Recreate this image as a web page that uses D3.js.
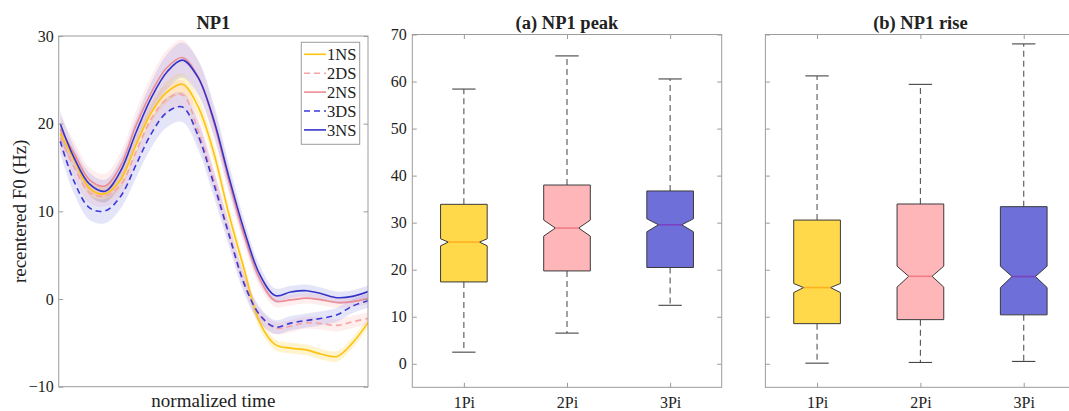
<!DOCTYPE html>
<html>
<head>
<meta charset="utf-8">
<script src="https://cdn.jsdelivr.net/npm/d3@7"></script>
<style>
  html, body { margin: 0; padding: 0; background: #fff; }
  svg { display: block; }
  text { font-family: "Liberation Serif", "Times New Roman", serif; fill: #222; }
</style>
</head>
<body>
<svg id="chart" width="1069" height="411"></svg>
<script>
// ---------------- DATA ----------------
const timePts = [0.005,0.05,0.1,0.15,0.2,0.25,0.3,0.35,0.4,0.45,0.5,0.55,0.6,0.65,0.7,0.75,0.8,0.85,0.9,0.95,1.0];
const seriesNames = ["1NS","2DS","2NS","3DS","3NS"];
const f0_1NS = [18.9,15.9,12.6,12.0,13.6,17.6,21.3,23.6,24.5,22.0,16.85,9.7,3.35,-2.7,-5.2,-5.6,-5.8,-6.3,-6.55,-5.0,-2.7];
const f0_2DS = [18.4,15.0,12.1,11.75,13.0,16.8,20.6,22.8,23.3,19.3,13.8,7.6,1.9,-1.9,-3.3,-3.1,-2.7,-2.8,-3.0,-2.6,-2.2];
const f0_2NS = [19.4,16.6,13.6,12.9,15.2,19.8,23.6,26.4,27.55,25.4,20.3,13.5,7.2,2.3,-0.2,-0.1,0.1,-0.1,-0.4,-0.3,0.05];
const f0_3DS = [18.0,13.4,10.4,10.05,11.7,15.3,18.9,21.3,21.9,18.7,13.3,7.4,1.7,-1.8,-3.2,-2.75,-2.45,-2.2,-1.8,-0.8,-0.2];
const f0_3NS = [20.0,16.1,13.1,12.3,14.6,19.0,23.0,25.9,27.25,25.3,20.6,13.95,7.8,2.8,0.4,0.8,0.95,0.6,0.15,0.3,0.85];
// half-widths of shaded error bands
const err_1NS = [0.9,0.9,0.9,0.9,1.0,1.0,1.1,1.2,1.2,1.1,1.0,0.9,0.8,0.7,0.6,0.6,0.6,0.6,0.6,0.6,0.6];
const err_2DS = [1.3,1.2,1.2,1.2,1.3,1.4,1.5,1.6,1.6,1.5,1.3,1.1,0.9,0.8,0.7,0.7,0.7,0.7,0.7,0.7,0.7];
const err_2NS = [1.5,1.4,1.4,1.4,1.5,1.7,1.9,2.0,2.0,1.9,1.7,1.4,1.1,0.9,0.7,0.6,0.6,0.6,0.6,0.6,0.6];
const err_3DS = [1.4,1.4,1.4,1.4,1.4,1.5,1.6,1.7,1.7,1.6,1.5,1.3,1.1,0.9,0.8,0.8,0.8,0.8,0.8,0.8,0.8];
const err_3NS = [1.4,1.3,1.3,1.3,1.4,1.6,1.8,2.0,2.0,2.0,1.8,1.5,1.2,1.0,0.8,0.7,0.7,0.7,0.7,0.7,0.7];
const f0Ticks = [-10,0,10,20,30];

const boxCategories = ["1Pi","2Pi","3Pi"];
// (a) NP1 peak
const peakWhiskerLow  = [2.47, 6.52, 12.43];
const peakQ1          = [17.4, 19.74, 20.47];
const peakNotchLow    = [25.08, 27.14, 28.06];
const peakMedian      = [25.87, 28.85, 29.55];
const peakNotchHigh   = [26.57, 30.55, 30.83];
const peakQ3          = [33.9, 38.0, 36.74];
const peakWhiskerHigh = [58.4, 65.45, 60.55];
// (b) NP1 rise
const riseWhiskerLow  = [0.13, 0.28, 0.5];
const riseQ1          = [8.53, 9.38, 10.4];
const riseNotchLow    = [15.14, 16.3, 16.2];
const riseMedian      = [16.2, 18.6, 18.55];
const riseNotchHigh   = [17.06, 20.75, 20.75];
const riseQ3          = [30.55, 33.97, 33.4];
const riseWhiskerHigh = [61.2, 59.4, 68.0];
const boxTicks = [0,10,20,30,40,50,60,70];

// ---------------- STYLE ----------------
const SERIF = '"Liberation Serif", "Times New Roman", Times, serif';
const lineStyle = {
  "1NS": {color: "#FFC20E", dash: null,  band: "#FFD84A", bandOp: 0.28},
  "2DS": {color: "#F7A3A6", dash: "6,4", band: "#FFA8AC", bandOp: 0.2},
  "2NS": {color: "#EC8C94", dash: null,  band: "#FFA8AC", bandOp: 0.2},
  "3DS": {color: "#3A3AD6", dash: "6,4", band: "#6F6FE0", bandOp: 0.18},
  "3NS": {color: "#3434C8", dash: null,  band: "#6F6FE0", bandOp: 0.18}
};
const boxFill   = ["#FFD94A", "#FFB6B9", "#6E6FD9"];
const boxMedCol = ["#FFB020", "#F07F88", "#7A40C0"];
const frameCol = "#9c9c9c";

const svg = d3.select("#chart");

function frame(g, x0, x1, y0, y1) {
  g.append("rect").attr("x", x0).attr("y", y0).attr("width", x1 - x0).attr("height", y1 - y0)
    .attr("fill", "none").attr("stroke", frameCol).attr("stroke-width", 1);
}
function styleAxis(sel, showText) {
  sel.attr("font-family", SERIF).attr("font-size", 16);
  sel.select(".domain").remove();
  sel.selectAll(".tick line").attr("stroke", frameCol);
  sel.selectAll(".tick text").attr("fill", "#222")
     .style("font-size", "16px").style("font-family", SERIF);
  if (!showText) sel.selectAll(".tick text").remove();
}

// ---------------- LEFT PANEL: F0 curves ----------------
(function() {
  const L = {x0: 58.7, x1: 368, y0: 36, y1: 386.7};
  const x = d3.scaleLinear().domain([0, 1]).range([L.x0, L.x1]);
  const y = d3.scaleLinear().domain([-10, 30]).range([L.y1, L.y0]);
  const g = svg.append("g");
  const series = {"1NS": [f0_1NS, err_1NS], "2DS": [f0_2DS, err_2DS], "2NS": [f0_2NS, err_2NS],
                  "3DS": [f0_3DS, err_3DS], "3NS": [f0_3NS, err_3NS]};
  const clipId = "clipL";
  svg.append("clipPath").attr("id", clipId).append("rect")
     .attr("x", L.x0).attr("y", L.y0).attr("width", L.x1 - L.x0).attr("height", L.y1 - L.y0);
  const gc = g.append("g").attr("clip-path", `url(#${clipId})`);
  const curve = d3.curveCatmullRom.alpha(0.5);
  const area = d3.area().curve(curve).x(d => x(d.t)).y0(d => y(d.v - d.e)).y1(d => y(d.v + d.e));
  const line = d3.line().curve(curve).x(d => x(d.t)).y(d => y(d.v));
  seriesNames.forEach(n => {
    const [vals, errs] = series[n];
    const pts = timePts.map((t, i) => ({t, v: vals[i], e: errs[i]}));
    gc.append("path").attr("d", area(pts)).attr("fill", lineStyle[n].band).attr("fill-opacity", lineStyle[n].bandOp);
  });
  seriesNames.forEach(n => {
    const [vals] = series[n];
    const pts = timePts.map((t, i) => ({t, v: vals[i]}));
    gc.append("path").attr("d", line(pts)).attr("fill", "none")
      .attr("stroke", lineStyle[n].color).attr("stroke-width", 1.6)
      .attr("stroke-dasharray", lineStyle[n].dash);
  });
  const ax = g.append("g").attr("transform", `translate(${L.x0},0)`)
    .call(d3.axisLeft(y).tickValues(f0Ticks).tickSize(-4.5).tickPadding(5).tickFormat(d3.format("d")));
  styleAxis(ax, true);
  const axr = g.append("g").attr("transform", `translate(${L.x1},0)`)
    .call(d3.axisRight(y).tickValues(f0Ticks).tickSize(-4.5));
  styleAxis(axr, false);
  frame(g, L.x0, L.x1, L.y0, L.y1);
  g.append("text").attr("x", (L.x0 + L.x1) / 2).attr("y", 29).attr("text-anchor", "middle")
    .style("font-size", "18.5px").style("font-weight", "bold").text("NP1");
  g.append("text").attr("x", (L.x0 + L.x1) / 2).attr("y", 407).attr("text-anchor", "middle")
    .style("font-size", "19px").text("normalized time");
  g.append("text").attr("transform", `translate(26,${(L.y0 + L.y1) / 2}) rotate(-90)`)
    .attr("text-anchor", "middle").style("font-size", "19px").text("recentered F0 (Hz)");
  // legend
  const lg = g.append("g");
  lg.append("rect").attr("x", 301.3).attr("y", 42.3).attr("width", 58.4).attr("height", 102)
    .attr("fill", "#fff").attr("stroke", frameCol);
  seriesNames.forEach((n, i) => {
    const yy = 54.3 + i * 18.9;
    lg.append("line").attr("x1", 304).attr("x2", 326).attr("y1", yy).attr("y2", yy)
      .attr("stroke", lineStyle[n].color).attr("stroke-width", 1.6).attr("stroke-dasharray", lineStyle[n].dash);
    lg.append("text").attr("x", 327).attr("y", yy).attr("dy", "0.35em").style("font-size", "16.5px").text(n);
  });
})();

// ---------------- BOX PANELS ----------------
function boxPanel(P, title, stats, showYLabels) {
  const g = svg.append("g");
  const x = d3.scaleLinear().domain([0.5, 3.5]).range([P.x0, P.x1]);
  const y = d3.scaleLinear().domain([-5, 70]).range([P.y1, P.y0]);
  const unit = x(1) - x(0);
  const hw = unit * 0.226;   // half box width
  const capHw = hw / 2;
  boxCategories.forEach((c, i) => {
    const cx = x(i + 1);
    g.append("line").attr("x1", cx).attr("x2", cx).attr("y1", y(stats.q3[i])).attr("y2", y(stats.wh[i]))
      .attr("stroke", "#555").attr("stroke-width", 1.1).attr("stroke-dasharray", "6,4");
    g.append("line").attr("x1", cx).attr("x2", cx).attr("y1", y(stats.q1[i])).attr("y2", y(stats.wl[i]))
      .attr("stroke", "#555").attr("stroke-width", 1.1).attr("stroke-dasharray", "6,4");
    [stats.wh[i], stats.wl[i]].forEach(v => {
      g.append("line").attr("x1", cx - capHw).attr("x2", cx + capHw).attr("y1", y(v)).attr("y2", y(v))
        .attr("stroke", "#444").attr("stroke-width", 1.1);
    });
    const halfNotchPx = (y(stats.nl[i]) - y(stats.nh[i])) / 2;
    const inset = Math.min(hw / 2, 2.2 * halfNotchPx);
    const l = cx - hw, r = cx + hw;
    const pts = [
      [l, y(stats.q3[i])], [r, y(stats.q3[i])], [r, y(stats.nh[i])], [r - inset, y(stats.med[i])],
      [r, y(stats.nl[i])], [r, y(stats.q1[i])], [l, y(stats.q1[i])], [l, y(stats.nl[i])],
      [l + inset, y(stats.med[i])], [l, y(stats.nh[i])]
    ];
    g.append("path").attr("d", d3.line()(pts) + "Z").attr("fill", boxFill[i])
      .attr("stroke", "#3a3a3a").attr("stroke-width", 1).attr("stroke-linejoin", "miter");
    g.append("line").attr("x1", l + inset).attr("x2", r - inset).attr("y1", y(stats.med[i])).attr("y2", y(stats.med[i]))
      .attr("stroke", boxMedCol[i]).attr("stroke-width", 1.6);
  });
  const ay = g.append("g").attr("transform", `translate(${P.x0},0)`)
    .call(d3.axisLeft(y).tickValues(boxTicks).tickSize(-4.5).tickPadding(5.5).tickFormat(d3.format("d")));
  styleAxis(ay, showYLabels);
  const ayr = g.append("g").attr("transform", `translate(${P.x1},0)`)
    .call(d3.axisRight(y).tickValues(boxTicks).tickSize(-4.5));
  styleAxis(ayr, false);
  const ax = g.append("g").attr("transform", `translate(0,${P.y1})`)
    .call(d3.axisBottom(x).tickValues([1, 2, 3]).tickSize(-4.5).tickPadding(9).tickFormat((d) => boxCategories[d - 1]));
  styleAxis(ax, true);
  const axt = g.append("g").attr("transform", `translate(0,${P.y0})`)
    .call(d3.axisTop(x).tickValues([1, 2, 3]).tickSize(-4.5));
  styleAxis(axt, false);
  frame(g, P.x0, P.x1, P.y0, P.y1);
  g.append("text").attr("x", (P.x0 + P.x1) / 2).attr("y", 29).attr("text-anchor", "middle")
    .style("font-size", "18.5px").style("font-weight", "bold").text(title);
}

boxPanel({x0: 412.3, x1: 721.7, y0: 34.5, y1: 387.3}, "(a) NP1 peak",
  {wl: peakWhiskerLow, q1: peakQ1, nl: peakNotchLow, med: peakMedian, nh: peakNotchHigh, q3: peakQ3, wh: peakWhiskerHigh}, true);
boxPanel({x0: 765.4, x1: 1075.4, y0: 34.5, y1: 387.3}, "(b) NP1 rise",
  {wl: riseWhiskerLow, q1: riseQ1, nl: riseNotchLow, med: riseMedian, nh: riseNotchHigh, q3: riseQ3, wh: riseWhiskerHigh}, false);
</script>
</body>
</html>
